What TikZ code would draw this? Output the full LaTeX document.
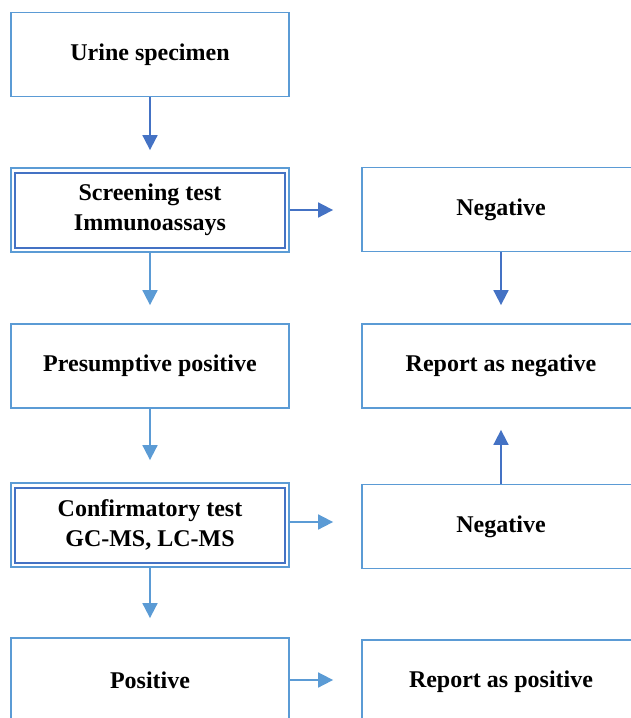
\documentclass[tikz,border=0pt]{standalone}
\usepackage{fontspec}
\setmainfont{Liberation Serif}
\usetikzlibrary{arrows.meta}
\definecolor{boxblue}{HTML}{5B9BD5}
\definecolor{deepblue}{HTML}{4472C4}
\begin{document}
\begin{tikzpicture}[x=1pt,y=-1pt,
    box/.style={draw=boxblue,line width=1.8pt,minimum width=278pt,minimum height=84pt,
                inner sep=0pt,align=center,font=\fontsize{24}{30}\selectfont\bfseries},
    inbox/.style={draw=deepblue,line width=1.8pt},
    arr/.style={boxblue,line width=1.8pt,-{Triangle[length=15pt,width=15pt]}},
    darr/.style={arr,deepblue}]
\useasboundingbox (0,0) rectangle (631,718);
\clip (0,0) rectangle (631,718);

\node[box] (urine) at (150,54.5) {Urine specimen};
\node[box] (screen) at (150,210) {Screening test\\Immunoassays};
\node[box] (presum) at (150,366) {Presumptive positive};
\node[box] (confirm) at (150,525) {Confirmatory test\\GC-MS, LC-MS};
\node[box] (pos) at (150,680) {Positive};

\node[box] (neg1) at (501,209.5) {Negative};
\node[box] (repneg) at (501,366) {Report as negative};
\node[box] (neg2) at (501,526.5) {Negative};
\node[box] (reppos) at (501,682) {Report as positive};

% inner frames of the test boxes
\foreach \b in {screen,confirm}
    \draw[inbox] ([xshift=5pt,yshift=-6pt]\b.north west) rectangle ([xshift=-5pt,yshift=5pt]\b.south east);

\draw[darr,shorten >=17pt] (urine.south) -- (screen.north);
\draw[darr,shorten >=28pt] (screen.east) -- (screen.east -| neg1.west);
\draw[darr,shorten >=18pt] (neg1.south) -- (repneg.north);
\draw[darr,shorten >=21pt] (neg2.north) -- (repneg.south);

\draw[arr,shorten >=18pt] (screen.south) -- (presum.north);
\draw[arr,shorten >=22pt] (presum.south) -- (confirm.north);
\draw[arr,shorten >=28pt] ([yshift=3pt]confirm.east) -- ([yshift=3pt]confirm.east -| neg2.west);
\draw[arr,shorten >=19pt] (confirm.south) -- (pos.north);
\draw[arr,shorten >=28pt] (pos.east) -- (pos.east -| reppos.west);
\end{tikzpicture}
\end{document}
